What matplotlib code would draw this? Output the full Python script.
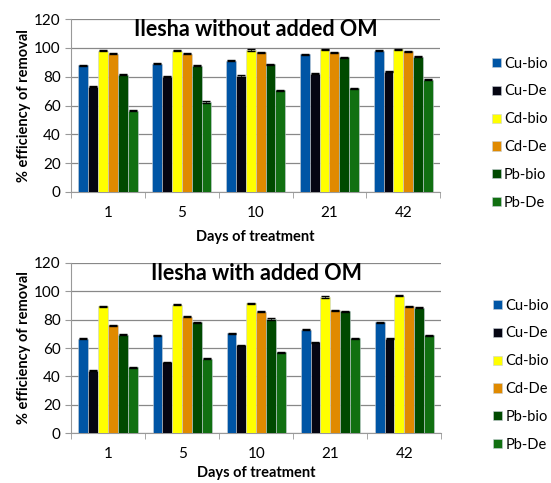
import numpy as np
import matplotlib.pyplot as plt

days = ["1", "5", "10", "21", "42"]
series = ["Cu-bio", "Cu-De", "Cd-bio", "Cd-De", "Pb-bio", "Pb-De"]
colors = ["#0055A5", "#050512", "#FFFF00", "#E08A00", "#004A00", "#117011"]

# rows = series, columns = days
without_om = [
    [88, 89, 91, 95.5, 98],
    [73, 80, 80.5, 82, 83.5],
    [98, 98, 98.5, 99, 99],
    [96, 96, 97, 97, 97.5],
    [81.5, 87.5, 88.5, 93.5, 94],
    [56.5, 62.5, 70.5, 72, 78],
]
with_om = [
    [66.5, 69, 70.5, 73, 78],
    [44, 50, 62, 64, 66.5],
    [89.5, 90.5, 91.5, 96, 97],
    [76, 82, 85.5, 86.5, 89.5],
    [69.5, 78, 80.5, 86, 88.5],
    [46.5, 52.5, 57, 67, 69],
]
err = 0.4

plt.rcParams['font.family'] = ['Lato', 'DejaVu Sans']

fig = plt.figure(figsize=(5.51, 4.83), dpi=100)
ax1 = fig.add_axes([0.129, 0.6025, 0.670, 0.358])
ax2 = fig.add_axes([0.129, 0.1035, 0.672, 0.352])


def draw(ax, data, title, xpad):
    x = np.arange(len(days))
    w = 0.8 / len(series)
    for i, (name, vals, c) in enumerate(zip(series, data, colors)):
        pos = x - 0.4 + w * (i + 0.5)
        ax.bar(pos, vals, width=w, color=c, edgecolor="#c8d0d8", linewidth=0.4,
               label=name, zorder=3,
               yerr=err, error_kw=dict(ecolor="black", elinewidth=0.5, capsize=3, capthick=1.0))
    ax.set_xlim(-0.5, len(days) - 0.5)
    ax.set_ylim(0, 120)
    ax.set_yticks(range(0, 121, 20))
    ax.set_xticks(x)
    ax.set_xticklabels(days)
    ax.set_xticks(np.arange(-0.5, len(days)), minor=True)
    ax.tick_params(axis="x", which="major", length=0, pad=10, labelsize=11)
    ax.tick_params(axis="x", which="minor", length=4, color="#999999")
    ax.tick_params(axis="y", length=4, color="#999999", labelsize=11)
    ax.yaxis.grid(True, color="#888888", linewidth=0.9, zorder=0)
    for s in ["top", "right"]:
        ax.spines[s].set_visible(False)
    for s in ["left", "bottom"]:
        ax.spines[s].set_color("#999999")
    ax.set_xlabel("Days of treatment", fontweight="bold", fontsize=10.5, labelpad=xpad)
    ax.set_ylabel("% efficiency of removal", fontweight="bold", fontsize=10.5, labelpad=2)
    ax.text(0.5, 1.0, title, transform=ax.transAxes, ha="center", va="top",
            fontsize=15.5, fontweight="bold")
    ax.legend(loc="center left", bbox_to_anchor=(1.125, 0.34), frameon=False,
              fontsize=10.5, handlelength=0.6, handleheight=0.6, handletextpad=0.2,
              labelspacing=0.95, borderaxespad=0)


draw(ax1, without_om, "Ilesha without added OM", 7)
draw(ax2, with_om, "Ilesha with added OM", 4)

fig.savefig("out.png", dpi=100)
